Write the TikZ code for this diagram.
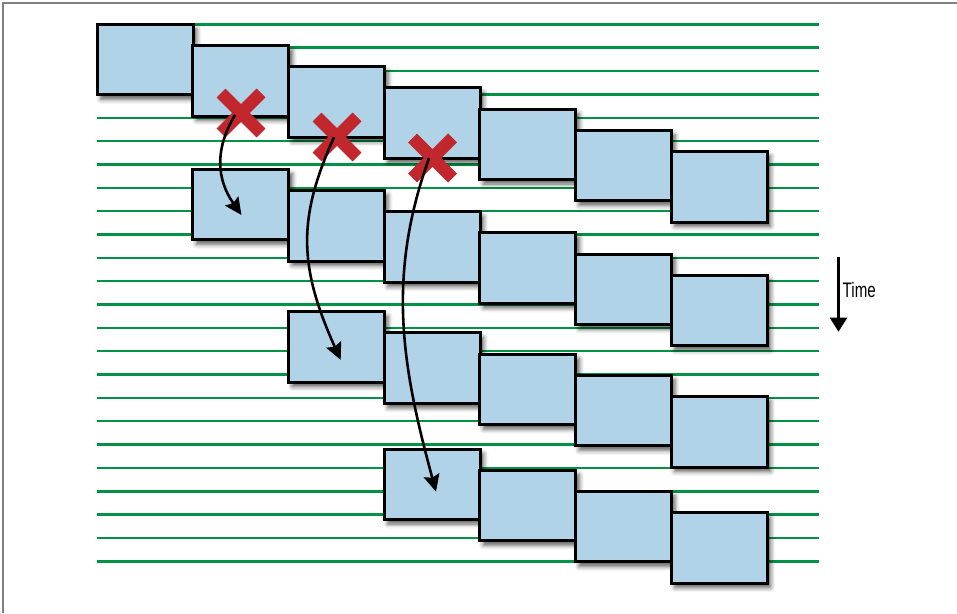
\documentclass[tikz,border=0pt]{standalone}
\usepackage{fontspec}
\newfontfamily\timefont[FakeStretch=0.72]{Liberation Sans}
\usetikzlibrary{arrows.meta,shadows.blur,calc}
\definecolor{boxblue}{RGB}{176,211,232}
\definecolor{lanegreen}{RGB}{0,146,69}
\definecolor{xred}{RGB}{193,39,45}
\begin{document}
\begin{tikzpicture}[x=1pt,y=-1pt,
  cell/.style={draw=black, line width=3pt, fill=boxblue, minimum width=96pt, minimum height=70.5pt, inner sep=0pt, outer sep=0pt,
    blur shadow={shadow xshift=3.5pt, shadow yshift=-4.5pt, shadow blur radius=4.5pt, shadow opacity=65}},
  lane/.style={lanegreen, line width=2.4pt},
  cross/.style={xred, line width=12.5pt},
  flow/.style={black, line width=2.6pt, -{Stealth[length=17pt,width=16pt,inset=2.5pt]}},
  timearrow/.style={black, line width=2.4pt, -{Triangle[length=14pt,width=17pt]}},
]
\useasboundingbox (0,0) rectangle (957,613);
\draw[gray, line width=1.5pt] (3,613) -- (3,3) -- (957,3);
% lanes
\foreach \i in {0,...,23}
  \draw[lane] (97,{24.3+23.35*\i}) -- (819,{24.3+23.35*\i});
% boxes
\foreach \g/\s/\top in {1/0/24.3, 2/1/169.3, 3/2/311.7, 4/3/449}
  \foreach \k in {\s,...,6}
    \node[cell] (b\g\k) at ({145.3+95.65*\k},{\top+35.25+21.2*(\k-\s)}) {};
% crosses
\coordinate (x1) at (241,113);
\coordinate (x2) at (337,137);
\coordinate (x3) at (432.5,158);
\foreach \n in {x1,x2,x3}{
  \draw[cross] ($(\n)+(-20,-20)$) -- ($(\n)+(20,20)$);
  \draw[cross] ($(\n)+(-20,20)$) -- ($(\n)+(20,-20)$);
}
% arrows
\coordinate (s1) at ($(x1)+(-6,2)$);
\coordinate (t1) at (241.5,215);
\coordinate (s2) at ($(x2)+(-3,0.3)$);
\coordinate (t2) at (340.7,360);
\coordinate (s3) at ($(x3)+(-3.5,0.3)$);
\coordinate (t3) at (436,491.7);
\draw[flow] (s1) .. controls +(-21,35) and +(-24.5,-35) .. (t1);
\draw[flow] (s2) .. controls +(-36,80) and +(-42.75,-95) .. (t2);
\draw[flow] (s3) .. controls +(-43.6,121) and +(-32.7,-121) .. (t3);
% time
\coordinate (ttop) at (838.5,256.7);
\coordinate (tbot) at (838.5,331.7);
\draw[timearrow] (ttop) -- (tbot);
\node[anchor=base west, inner sep=0pt, font={\timefont\fontsize{21pt}{22pt}\selectfont}] (tlabel) at (842.5,297) {Time};
\end{tikzpicture}
\end{document}
